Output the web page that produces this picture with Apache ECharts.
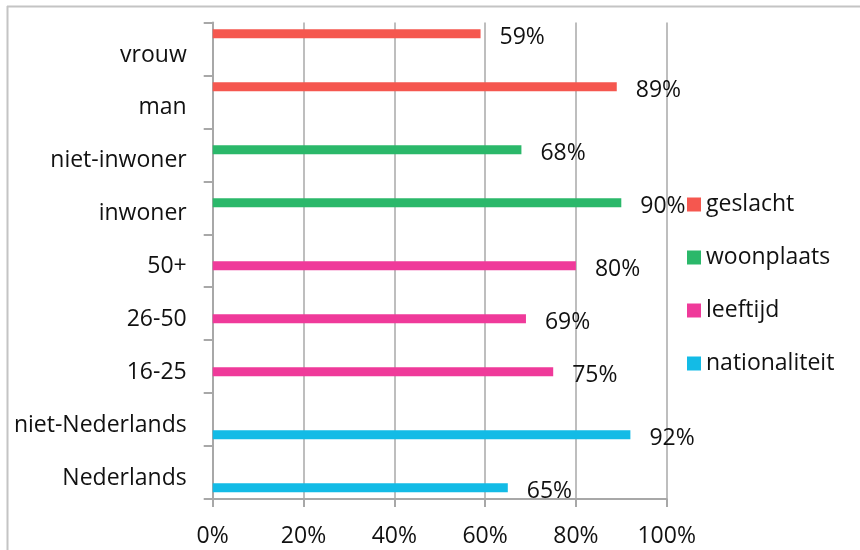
<!DOCTYPE html>
<html>
<head>
<meta charset="utf-8">
<script src="https://cdn.jsdelivr.net/npm/echarts@6/dist/echarts.min.js"></script>
<style>
  html, body { margin: 0; padding: 0; background: #ffffff; }
  #chart { width: 860px; height: 550px; }
</style>
</head>
<body>
<div id="chart"></div>
<script>
// Categories, top to bottom
const categories = ['vrouw', 'man', 'niet-inwoner', 'inwoner', '50+', '26-50', '16-25', 'niet-Nederlands', 'Nederlands'];
// Percentage per category
const values = [59, 89, 68, 90, 80, 69, 75, 92, 65];
// Group each category belongs to
const groupOf = ['geslacht', 'geslacht', 'woonplaats', 'woonplaats', 'leeftijd', 'leeftijd', 'leeftijd', 'nationaliteit', 'nationaliteit'];
// Groups (series) in legend order
const groups = ['geslacht', 'woonplaats', 'leeftijd', 'nationaliteit'];
const groupColors = ['#F5574F', '#2BB86A', '#EF3A9A', '#13BBE6'];
// X axis ticks
const xMin = 0, xMax = 100, xStep = 20;

const FONT = '"Open Sans", "Noto Sans", sans-serif';
const FS = 23;
const AXIS_GREY = '#a8a8a8';

const series = groups.map((g, gi) => ({
  name: g,
  type: 'bar',
  barWidth: 9,
  barGap: '13%',
  itemStyle: { color: groupColors[gi] },
  data: values.map((v, i) => (groupOf[i] === g ? v : '-')),
  label: {
    show: true,
    position: 'right',
    distance: 19,
    offset: [0, 4],
    formatter: p => p.value + '%',
    color: '#111',
    fontFamily: FONT,
    fontSize: FS
  }
}));

const chart = echarts.init(document.getElementById('chart'), null, { renderer: 'canvas' });
chart.setOption({
  animation: false,
  backgroundColor: '#ffffff',
  grid: { left: 212.7, right: 193.3, top: 22.5, bottom: 51, containLabel: false },
  legend: {
    orient: 'vertical',
    left: 682,
    top: 188,
    itemWidth: 14,
    itemHeight: 14,
    itemGap: 30,
    icon: 'rect',
    data: groups,
    textStyle: { fontFamily: FONT, fontSize: FS, color: '#111', padding: [5, 0, 0, 0] }
  },
  xAxis: {
    type: 'value',
    min: xMin,
    max: xMax,
    interval: xStep,
    axisLine: { show: true, lineStyle: { color: AXIS_GREY, width: 2 } },
    axisTick: { show: true, length: 8, lineStyle: { color: AXIS_GREY, width: 2 } },
    splitLine: { show: true, lineStyle: { color: AXIS_GREY, width: 1.5 } },
    axisLabel: {
      margin: 26,
      formatter: '{value}%',
      color: '#111',
      fontFamily: FONT,
      fontSize: FS
    }
  },
  yAxis: {
    type: 'category',
    inverse: true,
    data: categories,
    axisLine: { show: true, lineStyle: { color: AXIS_GREY, width: 2 } },
    axisTick: { show: true, length: 9, lineStyle: { color: AXIS_GREY, width: 2 } },
    splitLine: { show: false },
    axisLabel: {
      margin: 26,
      formatter: v => '{c|' + v + '}',
      rich: {
        c: { color: '#111', fontFamily: FONT, fontSize: FS, padding: [12, 0, 0, 0] }
      }
    }
  },
  graphic: [
    { type: 'line', shape: { x1: 7, y1: 6.5, x2: 860, y2: 6.5 }, style: { stroke: '#c4c4c4', lineWidth: 2 }, silent: true },
    { type: 'line', shape: { x1: 7.5, y1: 6, x2: 7.5, y2: 550 }, style: { stroke: '#c4c4c4', lineWidth: 2 }, silent: true }
  ],
  series: series
});
</script>
</body>
</html>
